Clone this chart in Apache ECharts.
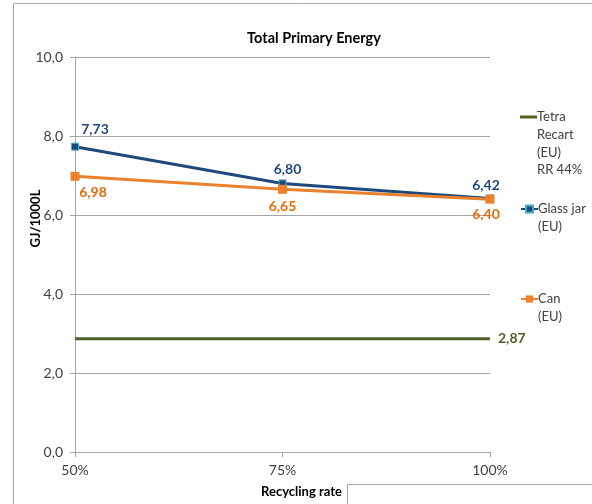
<!DOCTYPE html>
<html>
<head>
<meta charset="utf-8">
<script src="https://cdn.jsdelivr.net/npm/echarts@6/dist/echarts.min.js"></script>
<style>html,body{margin:0;padding:0;background:#fff}#c{width:592px;height:504px}</style>
</head>
<body>
<div id="c"></div>
<script>
var categories = ['50%', '75%', '100%'];
var tetraValues = [2.87, 2.87, 2.87];
var glassValues = [7.73, 6.80, 6.42];
var canValues = [6.98, 6.65, 6.40];
var yTicks = [0, 2, 4, 6, 8, 10];
var seriesNames = ['Tetra Recart (EU) RR 44%', 'Glass jar (EU)', 'Can (EU)'];
var legendText = {
  'Tetra Recart (EU) RR 44%': '\n\n\nTetra\nRecart\n(EU)\nRR 44%',
  'Glass jar (EU)': '\nGlass jar\n(EU)',
  'Can (EU)': '\nCan\n(EU)'
};

var FONT = 'Lato, "Liberation Sans", sans-serif';
var FS = 14;
var fmt = function (v) { return v.toFixed(2).replace('.', ','); };
var chart = echarts.init(document.getElementById('c'), null, {renderer: 'canvas'});

function legendFor(name, top, icon, ih) {
  var d = icon ? [{name: name, icon: icon}] : [name];
  return {
    data: d, left: 520, top: top, padding: 0,
    itemWidth: 17, itemHeight: ih, itemGap: 0,
    formatter: function (n) { return legendText[n]; },
    textStyle: {fontFamily: FONT, fontSize: 13, color: '#404040', lineHeight: 17.7, padding: [0, 0, 0, -5]},
    selectedMode: false
  };
}

var option = {
  animation: false,
  backgroundColor: '#fff',
  title: {
    text: 'Total Primary Energy', left: 309, top: 26, textAlign: 'center',
    textStyle: {fontFamily: FONT, fontSize: 14.5, fontWeight: 'bold', color: '#000'}
  },
  grid: {left: 75, right: 102, top: 57, bottom: 52},
  legend: [
    legendFor(seriesNames[0], 117 - 3.5 * 17.7, 'rect', 3),
    legendFor(seriesNames[1], 209 - 1.5 * 17.7, null, 9),
    legendFor(seriesNames[2], 299 - 1.5 * 17.7, null, 9)
  ],
  xAxis: {
    type: 'category', data: categories, boundaryGap: false,
    name: 'Recycling rate', nameLocation: 'middle', nameGap: 33,
    nameTextStyle: {fontFamily: FONT, fontSize: 13, fontWeight: 'bold', color: '#000', padding: [0, 0, 0, 38]},
    axisLine: {lineStyle: {color: '#a6a6a6'}},
    axisTick: {show: true, length: 5, lineStyle: {color: '#a6a6a6'}},
    axisLabel: {fontFamily: FONT, fontSize: FS, color: '#404040', margin: 11}
  },
  yAxis: {
    type: 'value', min: yTicks[0], max: yTicks[yTicks.length - 1], interval: 2,
    name: 'GJ/1000L', nameLocation: 'middle', nameGap: 33, nameRotate: 90, nameMoveOverlap: false,
    nameTextStyle: {fontFamily: FONT, fontSize: 13, fontWeight: 'bold', color: '#000', padding: [0, 0, 0, 72]},
    axisLine: {show: true, lineStyle: {color: '#a6a6a6'}},
    axisTick: {show: true, length: 5, lineStyle: {color: '#a6a6a6'}},
    axisLabel: {fontFamily: FONT, fontSize: FS, color: '#404040', margin: 12,
      formatter: function (v) { return v.toFixed(1).replace('.', ','); }},
    splitLine: {lineStyle: {color: '#a6a6a6'}}
  },
  series: [
    {
      name: seriesNames[0], type: 'line', data: tetraValues,
      symbol: 'none', lineStyle: {color: '#4F6228', width: 3}, itemStyle: {color: '#4F6228'},
      endLabel: {show: true, distance: 8, formatter: function (p) { return fmt(p.value); },
        fontFamily: FONT, fontSize: FS, fontWeight: 'bold', color: '#4F6228'}
    },
    {
      name: seriesNames[1], type: 'line', data: glassValues.map(function (v, i) {
        var off = i === 0 ? [20, -2] : (i === 2 ? [-4, 2] : [5, 1]);
        return {value: v, label: {offset: off}};
      }),
      symbol: 'rect', symbolSize: 7,
      lineStyle: {color: '#1F497D', width: 3},
      itemStyle: {color: '#1F497D', borderColor: '#4BACC6', borderWidth: 1},
      label: {show: true, position: 'top', distance: 4, formatter: function (p) { return fmt(p.value); },
        fontFamily: FONT, fontSize: FS, fontWeight: 'bold', color: '#1F497D'}
    },
    {
      name: seriesNames[2], type: 'line', data: canValues.map(function (v, i) {
        var off = i === 0 ? [18, -2] : (i === 2 ? [-4, -3] : [0, -1]);
        return {value: v, label: {offset: off}};
      }),
      symbol: 'rect', symbolSize: 9,
      lineStyle: {color: '#E8822E', width: 3},
      itemStyle: {color: '#E8822E'},
      label: {show: true, position: 'bottom', distance: 7, formatter: function (p) { return fmt(p.value); },
        fontFamily: FONT, fontSize: FS, fontWeight: 'bold', color: '#E46C0A'}
    }
  ],
  graphic: [
    {type: 'rect', shape: {x: 13.5, y: 3.5, width: 700, height: 600}, style: {fill: 'none', stroke: '#a6a6a6', lineWidth: 1}, silent: true, z: -1},
    {type: 'rect', shape: {x: 347.5, y: 484.5, width: 400, height: 100}, style: {fill: '#fff', stroke: '#a6a6a6', lineWidth: 1}, silent: true, z: 10}
  ]
};
chart.setOption(option);
</script>
</body>
</html>
